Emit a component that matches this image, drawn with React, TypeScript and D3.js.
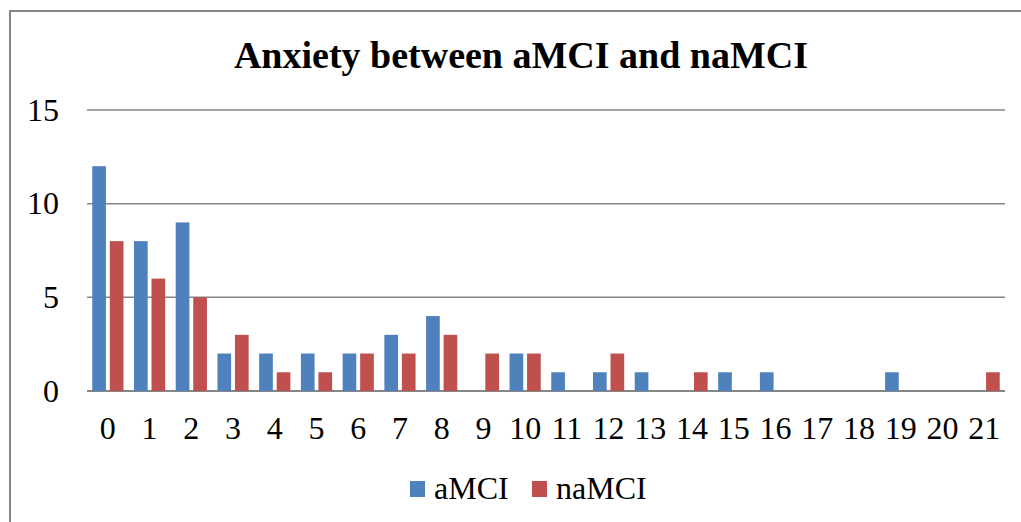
import React from "react";
import * as d3 from "d3";

const categories = ["0","1","2","3","4","5","6","7","8","9","10","11","12","13","14","15","16","17","18","19","20","21"];
const seriesNames = ["aMCI", "naMCI"];
const aMCI = [12, 8, 9, 2, 2, 2, 2, 3, 4, 0, 2, 1, 1, 1, 0, 1, 1, 0, 0, 1, 0, 0];
const naMCI = [8, 6, 5, 3, 1, 1, 2, 2, 3, 2, 2, 0, 2, 0, 1, 0, 0, 0, 0, 0, 0, 1];
const yTicks = [0, 5, 10, 15];
const colors = ["#4F81BD", "#C0504D"];
const title = "Anxiety between aMCI and naMCI";

export default function App() {
  const W = 1021, H = 522;
  const left = 87, right = 1005, top = 110, bottom = 391;
  const x = d3.scaleBand<string>().domain(categories).range([left, right]).padding(0);
  const x1 = d3.scaleBand<string>().domain(seriesNames).range([0, x.bandwidth()]).paddingInner(0.22).paddingOuter(0.3);
  const y = d3.scaleLinear().domain([0, 15]).range([bottom, top]);
  const data = [aMCI, naMCI];
  const font = "'Liberation Serif', 'Times New Roman', serif";

  return (
    <svg width={W} height={H} style={{ position: "absolute", left: 0, top: 0, background: "#fff", overflow: "hidden" }} fontFamily={font}>
      <path d={`M10,${H} L10,11 L${W},11`} fill="none" stroke="#868686" strokeWidth={2} />
      <text x={521} y={68} textAnchor="middle" fontSize={38} fontWeight="bold" fill="#000">{title}</text>
      {yTicks.map((t) => (
        <g key={t}>
          <line x1={left} x2={right} y1={y(t)} y2={y(t)} stroke="#868686" strokeWidth={t === 0 ? 2 : 1.5} />
          <text x={59} y={y(t) + 10.5} textAnchor="end" fontSize={32} fill="#000">{t}</text>
        </g>
      ))}
      {categories.map((c, i) => (
        <g key={c}>
          {seriesNames.map((s, k) => {
            const v = data[k][i];
            if (!v) return null;
            return (
              <rect key={s} x={(x(c) as number) + (x1(s) as number)} width={x1.bandwidth()} y={y(v)} height={y(0) - y(v)} fill={colors[k]} />
            );
          })}
          <text x={(x(c) as number) + x.bandwidth() / 2} y={439} textAnchor="middle" fontSize={32} fill="#000">{c}</text>
        </g>
      ))}
      <g>
        <rect x={410} y={481} width={15} height={16} fill={colors[0]} />
        <text x={434} y={499} fontSize={32} fill="#000">{seriesNames[0]}</text>
        <rect x={532} y={481} width={15} height={16} fill={colors[1]} />
        <text x={556} y={499} fontSize={32} fill="#000">{seriesNames[1]}</text>
      </g>
    </svg>
  );
}
